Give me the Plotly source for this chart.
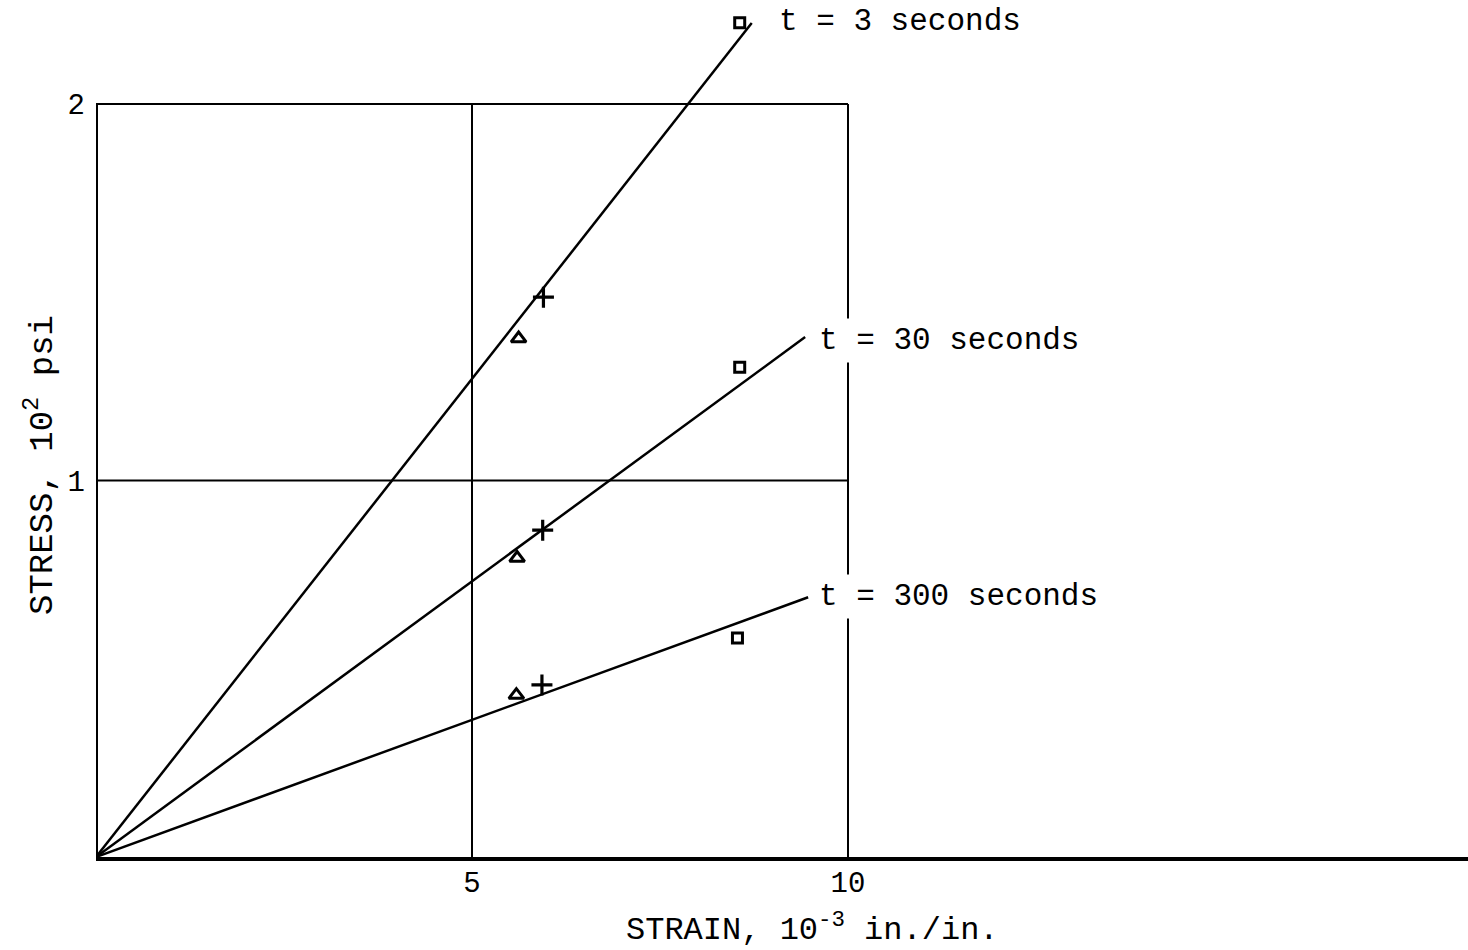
import plotly.graph_objects as go

# Measured points (strain in 10^-3 in./in., stress in 10^2 psi)
series_labels = ["t = 3 seconds", "t = 30 seconds", "t = 300 seconds"]

square_strain = [8.56, 8.56, 8.53]
square_stress = [2.216, 1.301, 0.582]

triangle_strain = [5.62, 5.60, 5.59]
triangle_stress = [1.377, 0.794, 0.430]

plus_strain = [5.95, 5.94, 5.93]
plus_stress = [1.487, 0.868, 0.457]

# Fitted lines run from the origin to these end points
fit_end_strain = [8.72, 9.43, 9.47]
fit_end_stress = [2.215, 1.381, 0.690]

# Label anchor points
label_strain = [9.02, 9.55, 9.55]
label_stress = [2.218, 1.373, 0.693]

x_ticks = [5, 10]
y_ticks = [1, 2]

FONT = "Liberation Mono, Courier New, monospace"
INK = "black"

# Pixel geometry of the plotting area
W, H = 1468, 950
LEFT, BOTTOM = 96, 93
PX_PER_X = 75.2
PX_PER_Y = 376.5

fig = go.Figure()

# Fitted lines
for xe, ye in zip(fit_end_strain, fit_end_stress):
    fig.add_trace(go.Scatter(
        x=[0, xe], y=[0, ye], mode="lines",
        line=dict(color=INK, width=2.5),
        cliponaxis=False, showlegend=False, hoverinfo="skip",
    ))

# Data markers
fig.add_trace(go.Scatter(
    x=square_strain, y=square_stress, mode="markers",
    marker=dict(symbol="square-open", size=10, color=INK, line=dict(width=3, color=INK)),
    cliponaxis=False, showlegend=False,
))
fig.add_trace(go.Scatter(
    x=triangle_strain, y=triangle_stress, mode="markers",
    marker=dict(symbol="triangle-up-open", size=13, color=INK, line=dict(width=3, color=INK)),
    cliponaxis=False, showlegend=False,
))
fig.add_trace(go.Scatter(
    x=plus_strain, y=plus_stress, mode="markers",
    marker=dict(symbol="cross-thin", size=15, color=INK, line=dict(width=3.2, color=INK)),
    cliponaxis=False, showlegend=False,
))

shapes = []
# Vertical grid lines at the x ticks, with a short tick below the axis
for xv in x_ticks:
    shapes.append(dict(type="line", xref="x", yref="y", x0=xv, x1=xv, y0=-0.018, y1=y_ticks[-1],
                       line=dict(color=INK, width=2), layer="below"))
# Horizontal grid lines
for yv in y_ticks:
    shapes.append(dict(type="line", xref="x", yref="y", x0=-0.08, x1=x_ticks[-1], y0=yv, y1=yv,
                       line=dict(color=INK, width=2), layer="below"))
# Left axis (stops at the top grid line)
shapes.append(dict(type="line", xref="x", yref="y", x0=0, x1=0, y0=0, y1=y_ticks[-1],
                   line=dict(color=INK, width=4), layer="below"))

annotations = []
for lbl, xs, ys in zip(series_labels, label_strain, label_stress):
    annotations.append(dict(
        x=xs, y=ys, xref="x", yref="y", text=lbl, showarrow=False,
        xanchor="left", yanchor="middle",
        font=dict(family=FONT, size=31, color=INK),
        bgcolor="white", borderpad=4,
    ))

plot_w = W - LEFT
plot_h = H - BOTTOM

# Axis titles (placed in paper units of the plotting area)
annotations.append(dict(
    x=(812 - LEFT) / plot_w, y=(plot_h - 928) / plot_h, xref="paper", yref="paper",
    text="STRAIN, 10<sup>-3</sup> in./in.", showarrow=False,
    xanchor="center", yanchor="middle",
    font=dict(family=FONT, size=32, color=INK),
))
annotations.append(dict(
    x=(40 - LEFT) / plot_w, y=(plot_h - 465) / plot_h, xref="paper", yref="paper",
    text="STRESS, 10<sup>2</sup> psi", showarrow=False, textangle=-90,
    xanchor="center", yanchor="middle",
    font=dict(family=FONT, size=34, color=INK),
))

fig.update_layout(
    width=W, height=H,
    margin=dict(l=LEFT, r=0, t=0, b=BOTTOM),
    paper_bgcolor="white", plot_bgcolor="white",
    shapes=shapes, annotations=annotations,
    showlegend=False,
    xaxis=dict(
        range=[0, plot_w / PX_PER_X], showgrid=False, zeroline=False,
        showline=True, linecolor=INK, linewidth=4,
        tickvals=x_ticks, ticktext=[str(v) for v in x_ticks],
        ticks="", ticklabelstandoff=-4,
        tickfont=dict(family=FONT, size=29, color=INK),
    ),
    yaxis=dict(
        range=[0, plot_h / PX_PER_Y], showgrid=False, zeroline=False, showline=False,
        tickvals=y_ticks, ticktext=[str(v) for v in y_ticks],
        ticks="", ticklabelstandoff=10,
        tickfont=dict(family=FONT, size=29, color=INK),
    ),
)

fig.write_html("out.html")
